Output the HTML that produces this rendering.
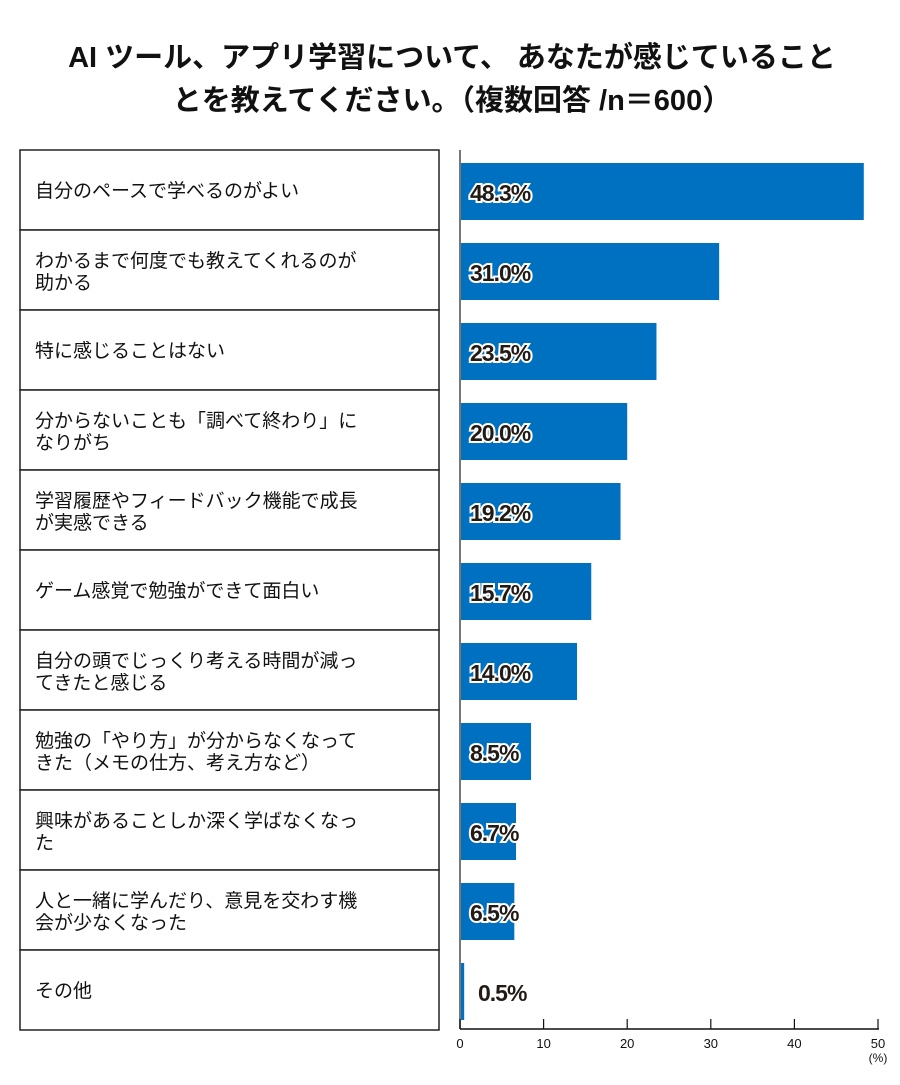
<!DOCTYPE html>
<html><head><meta charset="utf-8"><style>
body{margin:0;background:#fff;width:900px;height:1080px;overflow:hidden}
svg text{font-family:"Liberation Sans","Noto Sans CJK JP",sans-serif}
</style></head><body>
<svg id="chart" width="900" height="1080" xmlns="http://www.w3.org/2000/svg">
<g font-weight="bold" font-size="29" fill="#111" text-anchor="middle" font-family="'Liberation Sans','Noto Sans CJK JP',sans-serif">
<text x="452" y="67">AI ツール、アプリ学習について、 あなたが感じていること</text>
<text x="452" y="110">とを教えてください。（複数回答 /n＝600）</text>
</g>
<g id="rows"></g>
<g id="bars"></g>
<g id="axis"></g>
</svg>
<script>
const categories=[["自分のペースで学べるのがよい"],["わかるまで何度でも教えてくれるのが","助かる"],["特に感じることはない"],["分からないことも「調べて終わり」に","なりがち"],["学習履歴やフィードバック機能で成長","が実感できる"],["ゲーム感覚で勉強ができて面白い"],["自分の頭でじっくり考える時間が減っ","てきたと感じる"],["勉強の「やり方」が分からなくなって","きた（メモの仕方、考え方など）"],["興味があることしか深く学ばなくなっ","た"],["人と一緒に学んだり、意見を交わす機","会が少なくなった"],["その他"]];
const values=[48.3,31.0,23.5,20.0,19.2,15.7,14.0,8.5,6.7,6.5,0.5];
const ticks=[0,10,20,30,40,50];
const NS="http://www.w3.org/2000/svg";
const x0=460,x1=878,max=50,top0=150,rowH=80;
const xs=v=>x0+(x1-x0)*v/max;
function mk(t,a,p){const e=document.createElementNS(NS,t);for(const k in a)e.setAttribute(k,a[k]);p.appendChild(e);return e;}
const rows=document.getElementById('rows'),bars=document.getElementById('bars'),axis=document.getElementById('axis');
categories.forEach((c,i)=>{
 const y=top0+i*rowH;
 const r=mk('rect',{x:20,y:y,width:419,height:rowH,fill:'#fff',stroke:'#222','stroke-width':1.5},rows);
 
 
 const t=mk('text',{x:35,'font-size':19,fill:'#111'},rows);
 
 
 c.forEach((ln,j)=>{const ts=mk('tspan',{x:35,y:(c.length==1?y+47:y+37+j*22)},t);ts.textContent=ln;});
 const b=mk('rect',{x:x0,y:y+13,width:xs(values[i])-x0,height:57,fill:'#0070c0'},bars);
 
 
 const small=xs(values[i])-x0<20;
 const lt=mk('text',{x:small?478:470,y:y+51,'font-size':23,'font-weight':'bold',fill:'#221a15',stroke:small?'none':'#fff','stroke-width':4,'paint-order':'stroke','letter-spacing':'-1'},bars);
 
 
 lt.textContent=values[i].toFixed(1)+'%';
});
const vl=mk('line',{x1:x0,y1:top0,x2:x0,y2:1029,stroke:'#777','stroke-width':2},axis);


const hl=mk('line',{x1:x0,y1:1029,x2:x1+1,y2:1029,stroke:'#111','stroke-width':1.5},axis);


ticks.forEach(v=>{
 const tk=mk('line',{x1:xs(v),y1:1019,x2:xs(v),y2:1029,stroke:'#111','stroke-width':1.2},axis);
 
 
 const tl=mk('text',{x:xs(v),y:1048,'font-size':13,'text-anchor':'middle',fill:'#111'},axis);
 
 
 tl.textContent=v;
});
const u=mk('text',{x:x1,y:1062,'font-size':12,'text-anchor':'middle',fill:'#111'},axis);


u.textContent='(%)';
</script>
</body></html>
